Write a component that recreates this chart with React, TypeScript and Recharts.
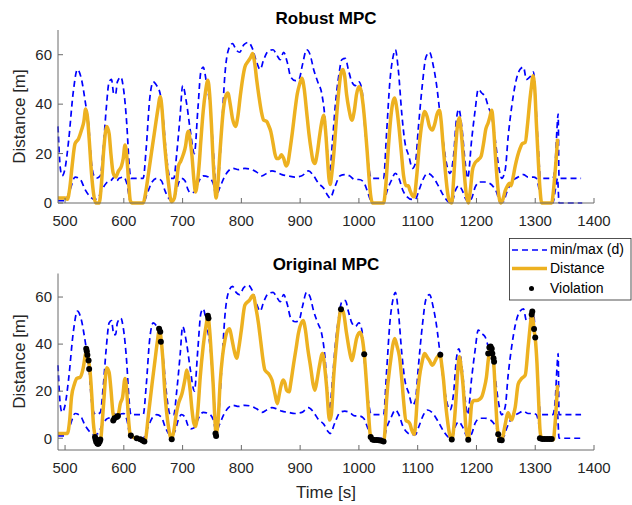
import { ComposedChart, Line, Scatter, XAxis, YAxis } from 'recharts';

type Pt = [number, number];

const xTicks = [500, 600, 700, 800, 900, 1000, 1100, 1200, 1300, 1400];
const yTicks = [0, 20, 40, 60];

// upper / lower bound on the distance (same in both panels)
const upperBound: Pt[] = [
  [488, 31], [492, 14], [495, 11], [500, 14], [506, 25], [514, 45], [521, 54], [528, 50],
  [535, 40], [540, 32], [545, 16], [549, 11], [553, 10], [560, 11], [565, 22], [570, 38],
  [575, 49], [579, 50], [583, 44], [586, 44], [589, 49], [595, 51], [599, 47], [605, 32],
  [609, 16], [612, 10], [633, 10], [638, 22], [644, 42], [650, 49], [656, 47.5], [662, 44],
  [667, 34], [673, 18], [679, 10], [685, 10], [690, 20], [696, 36], [700, 47.5], [707, 40],
  [713, 29.5], [720, 20], [726, 38], [731, 53], [735, 55], [741, 48], [748, 36], [752, 22],
  [756, 8], [758, 4], [762, 12], [767, 32], [772, 52], [778, 62], [785, 64.5], [791, 62],
  [797, 61], [804, 64], [812, 65], [818, 63], [826, 57], [832, 54], [838, 58], [846, 61.5],
  [854, 62], [860, 60], [866, 58], [872, 61], [878, 57], [884, 51], [892, 49.5], [898, 50],
  [904, 56], [911, 62], [917, 60], [923, 54], [930, 49], [937, 44], [942, 35], [946, 22],
  [950, 12], [955, 25], [960, 40], [966, 52], [971, 58], [977, 58.5], [982, 54], [988, 49],
  [994, 47.5], [1000, 49], [1005, 46], [1010, 31], [1016, 16], [1021, 10], [1042, 10],
  [1047, 28], [1053, 50], [1058, 59], [1062, 62], [1067, 54], [1073, 36], [1078, 25],
  [1085, 19], [1091, 14], [1096, 16], [1101, 30], [1108, 48], [1114, 59], [1120, 61],
  [1127, 55], [1132, 48], [1138, 36], [1144, 24], [1149, 16], [1155, 12], [1161, 19],
  [1166, 34], [1170, 38], [1175, 31], [1181, 16], [1185, 10], [1192, 26], [1198, 38],
  [1203, 46], [1209, 44.5], [1215, 43], [1220, 39], [1226, 35], [1232, 25.5], [1237, 16],
  [1243, 10], [1249, 13.5], [1254, 27], [1260, 39], [1266, 48], [1274, 54], [1280, 55],
  [1285, 50], [1291, 51], [1297, 53], [1301, 40], [1305, 23], [1309, 10], [1330, 10],
  [1334, 16], [1337, 30], [1339, 36], [1340.5, 10], [1378, 10],
];

const lowerBound: Pt[] = [
  [488, 1], [500, 1], [508, 5], [517, 10.5], [526, 9.5], [534, 5.5], [543, 2.5], [550, 1.5],
  [556, 2], [562, 5], [570, 8], [578, 9], [584, 10.5], [588, 9], [592, 10], [600, 10.5],
  [605, 8], [612, 0], [633, 0], [640, 4], [648, 8.5], [656, 10], [664, 9], [670, 5],
  [676, 2], [681, 1], [687, 3], [693, 8], [698, 10], [704, 9], [709, 5.5], [714, 4],
  [720, 4.5], [727, 8.5], [735, 11], [744, 10.5], [752, 8], [757, 3], [763, 6], [770, 10],
  [778, 13], [786, 14], [795, 13.5], [806, 14], [818, 13.5], [826, 12.5], [835, 11],
  [843, 12], [852, 13], [860, 12.5], [869, 11.5], [880, 11], [891, 10.5], [903, 11],
  [914, 13], [923, 11], [931, 8], [940, 6], [947, 3], [951, 2], [959, 6.5], [968, 11],
  [976, 11.5], [984, 11], [993, 9.5], [1000, 9.5], [1008, 8.5], [1014, 5], [1020, 1],
  [1022, 0], [1042, 0], [1048, 5], [1055, 9], [1062, 12], [1068, 10], [1075, 5],
  [1082, 2.5], [1090, 1.5], [1096, 1.5], [1102, 5], [1110, 10], [1117, 12], [1126, 10.5],
  [1135, 7], [1144, 3], [1152, 0.5], [1158, 0], [1164, 5], [1170, 7], [1176, 5],
  [1182, 1.5], [1186, 0.5], [1192, 2], [1198, 6.5], [1206, 8.5], [1214, 8.5], [1222, 8],
  [1229, 6.5], [1234, 4.5], [1240, 0.5], [1246, 0.5], [1251, 4], [1260, 8.5], [1271, 10.5],
  [1280, 11.5], [1288, 10.5], [1297, 10.5], [1302, 10], [1307, 5], [1311, 0], [1330, 0],
  [1334, 5], [1338, 10], [1340.5, 0], [1380, 0],
];

const robustDistance: Pt[] = [
  [488, 2], [500, 2], [504, 1.5], [508, 6], [512, 15], [517, 24], [523, 26], [528, 29.5],
  [532, 33], [535, 38], [538, 35], [541, 26], [545, 12], [549, 3], [552, 0], [558, 0],
  [562, 8], [566, 22], [571, 31], [575, 28], [578, 20], [582, 12], [586, 10.5], [591, 13],
  [596, 15], [599, 18], [602, 23.5], [605, 19], [608, 9], [611, 1], [614, 0], [633, 0],
  [637, 4], [642, 12], [648, 22], [653, 30], [658, 38], [662, 43], [665, 38], [668, 28],
  [672, 17], [676, 8], [681, 0.5], [686, 2], [690, 9], [693, 15], [697, 17], [701, 19.5],
  [705, 23], [708, 28], [710, 29], [713, 25], [716, 19], [719, 10], [722, 4.5], [725, 8],
  [728, 15], [731, 25], [735, 37], [739, 45], [743, 49.7], [746, 44], [749, 32], [752, 17],
  [755, 6], [757, 2], [760, 8], [764, 22], [769, 37], [773, 43], [777, 44.5], [781, 40],
  [785, 34], [790, 31], [794, 35], [798, 43], [802, 50], [806, 55], [812, 57.5], [816, 59],
  [819, 60.5], [823, 56], [826, 50], [830, 43], [834, 37], [838, 33.5], [843, 33], [847, 31],
  [850, 29], [854, 24], [857, 20], [860, 18], [864, 18], [868, 19.5], [872, 18], [876, 15],
  [879, 16], [883, 22], [887, 29], [891, 37], [895, 44], [899, 48], [903, 50.5], [907, 46],
  [911, 37], [915, 28], [919, 21], [922, 17], [925, 16], [929, 20], [933, 27], [937, 33],
  [940, 35.5], [943, 30], [946, 20], [949, 10], [951, 7.5], [954, 12], [958, 22], [962, 35],
  [966, 46], [970, 53], [973, 54], [976, 51], [979, 44], [983, 38], [988, 33.5], [992, 37],
  [996, 44], [1000, 47], [1003, 46], [1007, 40], [1011, 30], [1014, 21], [1017, 11],
  [1020, 3], [1023, 0], [1042, 0], [1046, 8], [1050, 22], [1054, 34], [1058, 41],
  [1061, 42.5], [1064, 39], [1068, 31], [1072, 21], [1076, 11], [1080, 7], [1084, 7],
  [1087, 5], [1091, 3], [1094, 2.5], [1098, 10], [1103, 24], [1107, 32], [1112, 37],
  [1116, 35], [1120, 31], [1125, 29.5], [1129, 32], [1133, 36], [1137, 37.5], [1140, 33],
  [1143, 24], [1147, 13], [1151, 4], [1155, 0.5], [1158, 0], [1161, 9], [1165, 24],
  [1168, 32], [1171, 34.5], [1174, 29], [1177, 20], [1180, 10], [1183, 3], [1186, 0],
  [1190, 6], [1193, 13], [1197, 16], [1203, 17.5], [1208, 19], [1212, 24], [1216, 30],
  [1220, 32.5], [1223, 35], [1226, 37.5], [1229, 31], [1232, 20], [1235, 10], [1238, 3],
  [1241, 0], [1245, 1.5], [1249, 5], [1253, 7], [1256, 8], [1259, 7], [1262, 10],
  [1266, 15], [1270, 19], [1274, 22], [1278, 24], [1283, 24.5], [1287, 32], [1291, 42],
  [1294, 48], [1296, 51.5], [1299, 47], [1302, 32], [1305, 18], [1308, 6], [1311, 0],
  [1328, 0], [1331, 5], [1334, 13], [1336, 19], [1338, 26],
];

const originalDistance: Pt[] = [
  [488, 2], [500, 2], [504, 2], [508, 8], [511, 17.5], [516, 23], [520, 25.4], [526, 26],
  [531, 30], [535, 36], [537, 37.5], [540, 33], [543, 27], [546, 16], [548, 7], [551, 1],
  [553, -1.5], [556, -2.3], [559, -1.5], [561, 0], [563, 6], [566, 16], [571, 30], [575, 28],
  [578, 21], [582, 10], [585, 8.5], [590, 9.5], [594, 14.7], [598, 17.6], [602, 25.4],
  [605, 20], [608, 8], [611, 1.4], [614, 0.5], [622, 0], [628, -0.4], [632, -1], [635, -1.5],
  [637, -0.5], [641, 8], [648, 23], [653, 33], [657, 41], [661, 46.7], [663, 43], [666, 35],
  [670, 19], [676, 4.8], [681, -0.4], [685, 3], [689, 10], [693, 14.7], [699, 19], [704, 25],
  [707, 29], [710, 26], [713, 20], [716, 12], [719, 6.5], [722, 5], [726, 12], [730, 26],
  [735, 39], [740, 48], [743, 52], [746, 46], [749, 35], [752, 23], [755, 8], [757, 1.5],
  [760, 6], [764, 24], [768, 35], [772, 41.7], [777, 46], [780, 46.5], [784, 42], [788, 37],
  [792, 34], [796, 39], [800, 46], [806, 56.6], [814, 58.7], [820, 60.8], [825, 55],
  [829, 49], [833, 41], [837, 33], [840, 29], [846, 27.5], [852, 24.7], [857, 19],
  [861, 14.7], [864, 18], [867, 21.8], [871, 24.7], [874, 23.5], [877, 20.4], [881, 19.7],
  [885, 25], [889, 31.8], [893, 38], [897, 44.5], [905, 50], [909, 46], [913, 38], [918, 30],
  [922, 23], [925, 20.4], [929, 25], [933, 31], [938, 36], [941, 32], [945, 22], [950, 7.7],
  [953, 10], [957, 26], [961, 38], [965, 48], [969.5, 54.5], [973, 54], [979, 44.5],
  [984, 37], [988, 33], [992, 37], [996, 42.4], [1002, 45], [1006, 42], [1009, 36],
  [1013, 23], [1016, 12], [1019, 2], [1021, 0], [1026, -0.7], [1034, -0.9], [1042, -1.5],
  [1044, 2], [1047, 16], [1054, 33], [1058, 40], [1061, 42.4], [1065, 39], [1069, 34.6],
  [1073, 25], [1076, 16], [1080, 7.5], [1084, 7], [1087, 6], [1090, 3.4], [1094, 1.6],
  [1097, 8], [1099, 16], [1103, 26], [1107, 31.8], [1112, 36], [1116, 34.5], [1120, 33],
  [1125, 31], [1129, 32.5], [1132, 34], [1138, 35.5], [1141, 31], [1144, 24.7], [1147, 16],
  [1150, 9], [1154, 2], [1158, -0.6], [1162, 6], [1165, 16], [1168, 28], [1171, 34.6],
  [1174, 30], [1177, 23], [1180, 12], [1182, 4.8], [1186, -0.6], [1189, 6], [1192, 14.7],
  [1196, 16], [1200, 16], [1205, 16.5], [1209, 17.6], [1213, 21], [1217, 26], [1220, 33],
  [1223, 37.5], [1226, 36.5], [1229, 33], [1231, 25], [1233, 14.7], [1235, 6], [1237, 1.7],
  [1240, -0.5], [1243, -0.9], [1246, 2], [1249, 6], [1254, 10.8], [1257, 9], [1260, 7.7],
  [1263, 10], [1266, 13.3], [1271, 23], [1277, 25.4], [1283, 26.8], [1288, 38.9],
  [1292, 49], [1294, 53], [1296, 51], [1298, 46], [1300, 42.5], [1303, 31.8], [1306, 14.7],
  [1308, 4], [1310, 0.6], [1320, -0.3], [1331, -0.6], [1333, 4], [1335, 10.5], [1338, 22.6],
];

const violations: Pt[] = [
  [536, 38], [537, 37], [538, 35.4], [540, 33], [541, 29.4],
  [551, 0.5], [552, -0.5], [553, -1.5], [555, -2.2], [556, -2.3], [557, -2.2], [559, -1.4], [560, -0.5],
  [582, 7.5], [584, 8.5], [588, 9], [590, 9.5],
  [612, 1.2], [622, 0], [628, -0.4], [632, -1], [635, -1.4],
  [660, 46.5], [662, 45.3], [663, 41], [681.5, -0.4],
  [743, 52], [744, 51], [756, 2], [757, 1],
  [969.5, 54.8], [1009, 35.7],
  [1020, 0.5], [1023, -0.5], [1026, -0.7], [1030, -0.8], [1034, -0.9], [1038, -1.1], [1042, -1.4],
  [1138.5, 35.5], [1158, -0.5], [1186, -0.6],
  [1220, 36], [1222, 38.6], [1224, 39], [1226, 38], [1227, 36], [1229, 34], [1230, 32.5],
  [1237, 1.7], [1240, -0.8], [1243, -0.9],
  [1294, 52.6], [1295, 53.8], [1298, 46.4], [1300, 42.8],
  [1308, 0], [1312, -0.3], [1316, -0.3], [1320, -0.3], [1324, -0.3], [1328, -0.3],
];

const toRows = (pts: Pt[]) => pts.map(([t, d]) => ({ t, d }));

const FONT = '"Liberation Sans", Arial, Helvetica, sans-serif';
const TEXT = '#262626';
const AXIS = '#6a6a6a';
const BLUE = '#0000ff';
const ORANGE = '#edb120';

const XTick = (props: any) => {
  const { x, y, payload } = props;
  return (
    <g>
      <line x1={x} x2={x} y1={y} y2={y - 5} stroke={AXIS} strokeWidth={1} />
      <text x={x} y={y + 23} textAnchor="middle" fontSize={15} fontFamily={FONT} fill={TEXT}>
        {payload.value}
      </text>
    </g>
  );
};

const YTick = (props: any) => {
  const { x, y, payload } = props;
  return (
    <g>
      <line x1={x} x2={x + 5} y1={y} y2={y} stroke={AXIS} strokeWidth={1} />
      <text x={x - 6} y={y + 5.3} textAnchor="end" fontSize={15} fontFamily={FONT} fill={TEXT}>
        {payload.value}
      </text>
    </g>
  );
};

interface PanelProps {
  distance: Pt[];
  yDomain: [number, number];
  height: number;
  top: number;
  marginTop: number;
  marginBottom: number;
  xAxisHeight: number;
  showViolations?: boolean;
}

function Panel({ distance, yDomain, height, top, marginTop, marginBottom, xAxisHeight, showViolations }: PanelProps) {
  return (
    <div style={{ position: 'absolute', left: 0, top }}>
      <ComposedChart width={632} height={height} margin={{ top: marginTop, right: 38, bottom: marginBottom, left: 0 }}>
        <XAxis
          type="number"
          dataKey="t"
          domain={[488, 1400]}
          ticks={xTicks}
          tickSize={0}
          tickMargin={0}
          height={xAxisHeight}
          axisLine={{ stroke: AXIS, strokeWidth: 1 }}
          tickLine={false}
          tick={<XTick />}
          interval={0}
        />
        <YAxis
          type="number"
          domain={yDomain}
          ticks={yTicks}
          tickSize={0}
          tickMargin={0}
          width={58}
          axisLine={{ stroke: AXIS, strokeWidth: 1 }}
          tickLine={false}
          tick={<YTick />}
          interval={0}
        />
        <Line data={toRows(upperBound)} dataKey="d" type="monotone" stroke={BLUE} strokeWidth={1.7}
          strokeDasharray="6 4" dot={false} activeDot={false} isAnimationActive={false} />
        <Line data={toRows(lowerBound)} dataKey="d" type="monotone" stroke={BLUE} strokeWidth={1.7}
          strokeDasharray="6 4" dot={false} activeDot={false} isAnimationActive={false} />
        <Line data={toRows(distance)} dataKey="d" type="monotone" stroke={ORANGE} strokeWidth={3.5}
          strokeLinejoin="round" dot={false} activeDot={false} isAnimationActive={false} />
        {showViolations && (
          <Scatter
            data={toRows(violations)}
            dataKey="d"
            isAnimationActive={false}
            shape={(p: any) => <circle cx={p.cx} cy={p.cy} r={3} fill="#000" />}
          />
        )}
      </ComposedChart>
    </div>
  );
}

export default function App() {
  return (
    <div style={{ position: 'absolute', left: 0, top: 0, width: 632, height: 505, background: '#fff' }}>
      <Panel distance={robustDistance} yDomain={[0, 70]} height={230} top={0}
        marginTop={30} marginBottom={2} xAxisHeight={25} />
      <Panel distance={originalDistance} yDomain={[-5, 70]} height={255} top={250}
        marginTop={23.5} marginBottom={5} xAxisHeight={50} showViolations />
      <svg width={632} height={505} style={{ position: 'absolute', left: 0, top: 0, pointerEvents: 'none' }}>
        <g fontFamily={FONT} fill="#000">
          <text x={326} y={24} textAnchor="middle" fontSize={17} fontWeight="bold">Robust MPC</text>
          <text x={326} y={269.5} textAnchor="middle" fontSize={17} fontWeight="bold">Original MPC</text>
        </g>
        <g fontFamily={FONT} fill={TEXT} fontSize={17}>
          <text x={326} y={498} textAnchor="middle">Time [s]</text>
          <text transform="translate(25,116.5) rotate(-90)" textAnchor="middle">Distance [m]</text>
          <text transform="translate(25,361.5) rotate(-90)" textAnchor="middle">Distance [m]</text>
        </g>
        <g>
          <rect x={509.5} y={238.5} width={121.5} height={61.5} fill="#fff" stroke={TEXT} strokeWidth={0.8} />
          <line x1={512} x2={547} y1={250} y2={250} stroke={BLUE} strokeWidth={1.7} strokeDasharray="6 4" />
          <line x1={512} x2={547} y1={268.5} y2={268.5} stroke={ORANGE} strokeWidth={3.5} />
          <circle cx={531.5} cy={288.5} r={2.5} fill="#000" />
          <g fontFamily={FONT} fontSize={14} fill="#000">
            <text x={550} y={253.5}>min/max (d)</text>
            <text x={550} y={273.3}>Distance</text>
            <text x={550} y={293.3}>Violation</text>
          </g>
        </g>
      </svg>
    </div>
  );
}
